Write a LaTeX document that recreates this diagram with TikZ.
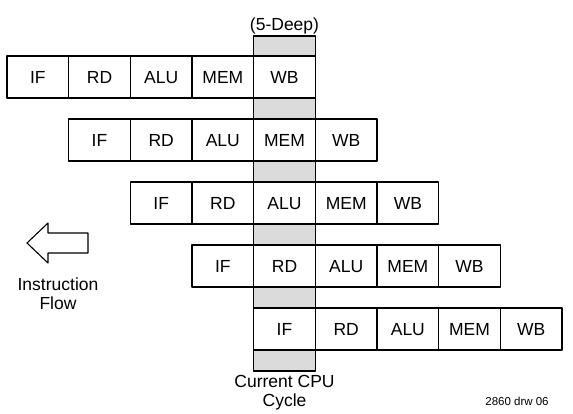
\documentclass[tikz,border=0pt]{standalone}
\usepackage{fontspec}
\setmainfont{Liberation Sans}
\begin{document}
\begin{tikzpicture}[x=1pt,y=-1pt,line cap=round,line join=round,
    cell/.style={draw,line width=1.2pt,minimum width=61.7pt,minimum height=42pt,
      inner sep=0pt,text height=12.6pt,text depth=0pt,font=\fontsize{17.5}{17.5}\selectfont},
    lbl/.style={align=center,font=\fontsize{17.5}{19}\selectfont}]
  \useasboundingbox (0,0) rectangle (573,413);
  \def\cw{61.67} \def\rp{63} \def\xo{7} \def\yo{77}
  % current cycle column
  \fill[gray!28] (\xo+4*\cw,36) rectangle (\xo+5*\cw,371);
  \foreach \r in {0,...,4}
    \foreach \s/\t in {0/IF,1/RD,2/ALU,3/MEM,4/WB}
      \node[cell,fill=white] (c\r\s) at ({\xo+(\r+\s+0.5)*\cw},{\yo+\r*\rp}) {\t};
  \draw[line width=1.6pt] (\xo+4*\cw,36) coordinate (ctop) rectangle (\xo+5*\cw,371) coordinate (cbot);
  \node[lbl,above,inner sep=2pt] (deep) at (c04.north |- ctop) {(5-Deep)};
  \node[lbl,below,inner sep=4pt] (cpu) at (c40.south |- cbot) {Current CPU\\Cycle};
  % instruction flow arrow
  \draw[line width=1.1pt] (27,243) coordinate (tip) -- (48,223) -- (48,233) -- (88,233)
    -- (88,253) -- (48,253) -- (48,263) -- cycle;
  \node[lbl] (flow) at (58,294) {Instruction\\Flow};
  \node[font=\fontsize{11.5}{11.5}\selectfont] (drw) at (517,401) {2860 drw 06};
\end{tikzpicture}
\end{document}
